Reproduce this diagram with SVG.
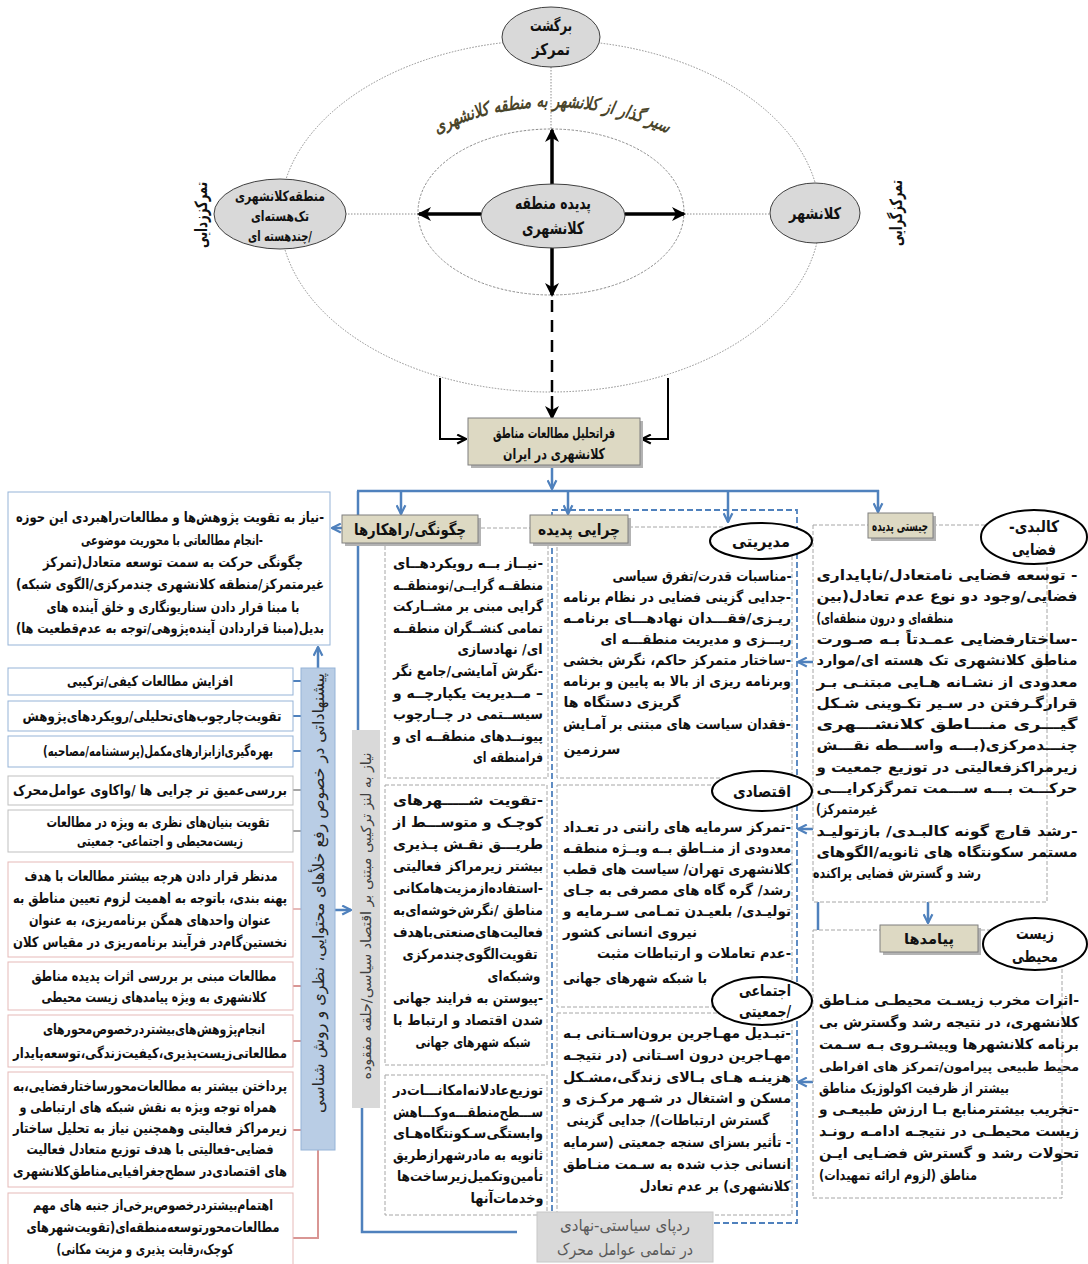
<svg xmlns="http://www.w3.org/2000/svg" width="1088" height="1264" viewBox="0 0 1088 1264">
<style>
.t{font-family:"DejaVu Sans","Noto Sans",sans-serif;font-weight:bold;font-size:14px;fill:#111;direction:rtl;text-anchor:middle}
.h{font-family:"DejaVu Sans","Noto Sans",sans-serif;font-weight:bold;font-size:15px;fill:#111;direction:rtl;text-anchor:middle}
.v{font-family:"DejaVu Sans","Noto Sans",sans-serif;font-size:14px;fill:#404040;direction:rtl;text-anchor:middle}
.dot{fill:none;stroke:#8c8c8c;stroke-width:1;stroke-dasharray:1.5 1.5}
.node{fill:#d9d9d9;stroke:#404040;stroke-width:1}
.hdr{fill:#ddd9c3;stroke:#7f7f7f;stroke-width:1}
.shd{fill:#b3b3b3}
.dbox{fill:none;stroke:#a6a6a6;stroke-width:1;stroke-dasharray:4 2}
.oval{fill:#fff;stroke:#000;stroke-width:2}
.bl{fill:none;stroke:#4f81bd;stroke-width:2.5}
.blb{fill:#fff;stroke:#95b3d7;stroke-width:1}
.grb{fill:#fff;stroke:#bfbfbf;stroke-width:1}
.pkb{fill:#fff;stroke:#e6b9b8;stroke-width:1}
.k{fill:none;stroke:#000;stroke-width:2}
.kt{fill:none;stroke:#000;stroke-width:3.5}
</style>
<defs>
<marker id="ah" viewBox="0 0 14 14" refX="12" refY="7" markerWidth="14" markerHeight="14" markerUnits="userSpaceOnUse" orient="auto"><path d="M0,0 L14,7 L0,14 L4,7 z" fill="#000"/></marker>
<marker id="ab" viewBox="0 0 10 10" refX="9" refY="5" markerWidth="11" markerHeight="11" markerUnits="userSpaceOnUse" orient="auto"><path d="M1,1 L9,5 L1,9" fill="none" stroke="#4f81bd" stroke-width="2"/></marker>
<marker id="ak" viewBox="0 0 10 10" refX="9" refY="5" markerWidth="11" markerHeight="11" markerUnits="userSpaceOnUse" orient="auto"><path d="M1,1 L9,5 L1,9" fill="none" stroke="#000" stroke-width="2"/></marker>
<path id="arc" d="M428,138 A263,263 0 0 1 676,138"/>
</defs>
<rect width="1088" height="1264" fill="#fff"/>

<g id="outer-ring"><ellipse cx="550" cy="216" rx="270" ry="176" class="dot"/></g>
<g id="inner-ring"><ellipse cx="551" cy="212" rx="133" ry="83" class="dot" style="stroke-dasharray:2.5 1.5"/></g>

<g id="connectors">
<line x1="551" y1="67" x2="551" y2="129" class="dot"/>
<line x1="345" y1="214" x2="418" y2="214" class="dot"/>
<line x1="684" y1="214" x2="770" y2="214" class="dot"/>
<line x1="552" y1="185" x2="552" y2="130" class="kt" marker-end="url(#ah)"/>
<line x1="481" y1="214" x2="419" y2="214" class="kt" marker-end="url(#ah)"/>
<line x1="625" y1="214" x2="684" y2="214" class="kt" marker-end="url(#ah)"/>
<line x1="552" y1="247" x2="552" y2="295" class="kt" marker-end="url(#ah)"/>
<line x1="552" y1="300" x2="552" y2="398" class="k" style="stroke-dasharray:12 8;stroke-width:2.5"/>
<line x1="552" y1="396" x2="552" y2="418" class="k" style="stroke-width:2.5" marker-end="url(#ah)"/>
<polyline points="440,378 440,439 466,439" class="k" marker-end="url(#ak)"/>
<polyline points="668,378 668,439 642,439" class="k" marker-end="url(#ak)"/>
<line x1="552" y1="465" x2="552" y2="489" class="bl" marker-end="url(#ab)"/>
<line x1="357" y1="491" x2="879" y2="491" class="bl"/>
<line x1="358" y1="491" x2="358" y2="730" class="bl"/>
<line x1="358" y1="528" x2="332" y2="528" class="bl" marker-end="url(#ab)"/>
<line x1="401" y1="491" x2="401" y2="514" class="bl" marker-end="url(#ab)"/>
<line x1="568" y1="491" x2="568" y2="514" class="bl" marker-end="url(#ab)"/>
<line x1="728" y1="491" x2="728" y2="522" class="bl" marker-end="url(#ab)"/>
<line x1="878" y1="490" x2="878" y2="512" class="bl" marker-end="url(#ab)"/>
<line x1="318" y1="668" x2="318" y2="647" class="bl" marker-end="url(#ab)"/>
<line x1="335" y1="910" x2="351" y2="910" class="bl" marker-end="url(#ab)"/>
<polyline points="362,1108 362,1232 517,1232" class="bl"/>
<line x1="813" y1="662" x2="798" y2="662" class="bl" marker-end="url(#ab)"/>
<line x1="813" y1="829" x2="798" y2="829" class="bl" marker-end="url(#ab)"/>
<line x1="813" y1="1082" x2="798" y2="1082" class="bl" marker-end="url(#ab)"/>
<line x1="818" y1="902" x2="818" y2="930" class="bl"/>
<line x1="928" y1="902" x2="928" y2="923" class="bl" marker-end="url(#ab)"/>
<g style="stroke-width:2;fill:none">
<line x1="293" y1="681" x2="301" y2="681" stroke="#4f81bd"/>
<line x1="293" y1="716" x2="301" y2="716" stroke="#4f81bd"/>
<line x1="293" y1="751" x2="301" y2="751" stroke="#4f81bd"/>
<line x1="293" y1="790" x2="301" y2="790" stroke="#a6a6a6"/>
<line x1="293" y1="831" x2="301" y2="831" stroke="#a6a6a6"/>
<line x1="293" y1="909" x2="301" y2="909" stroke="#e6b9b8"/>
<line x1="293" y1="986" x2="301" y2="986" stroke="#d99694"/>
<line x1="293" y1="1041" x2="301" y2="1041" stroke="#d99694"/>
<line x1="293" y1="1130" x2="301" y2="1130" stroke="#d99694"/>
<polyline points="293,1238 318,1238 318,1150" stroke="#d99694"/>
</g>
</g>

<text style="font-family:'DejaVu Sans',sans-serif;font-weight:bold;font-style:italic;font-size:18px;fill:#4a452a;direction:rtl;text-anchor:middle"><textPath href="#arc" startOffset="50%" textLength="238" lengthAdjust="spacingAndGlyphs">سیر گذار از کلانشهر به منطقه کلانشهری</textPath></text>

<g id="lbl-decentral"><text class="h" transform="translate(201,215) rotate(-90)" x="0" y="6" textLength="66" lengthAdjust="spacingAndGlyphs" style="font-size:17px">تمرکززدایی</text></g>
<g id="lbl-central"><text class="h" transform="translate(896,213) rotate(-90)" x="0" y="6" textLength="66" lengthAdjust="spacingAndGlyphs" style="font-size:17px">تمرکزگرایی</text></g>

<g id="n-return"><ellipse cx="551" cy="37" rx="49" ry="30" class="node"/>
<text class="h" x="551" y="31" textLength="42" lengthAdjust="spacingAndGlyphs" style="font-size:16px">برگشت</text>
<text class="h" x="551" y="55" textLength="38" lengthAdjust="spacingAndGlyphs" style="font-size:16px">تمرکز</text></g>

<g id="n-region"><ellipse cx="280" cy="214" rx="66" ry="35" class="node"/>
<text class="t" x="280" y="201" textLength="90" lengthAdjust="spacingAndGlyphs">منطقه‌کلانشهری</text>
<text class="t" x="280" y="221" textLength="58" lengthAdjust="spacingAndGlyphs">تک‌هسته‌ای</text>
<text class="t" x="280" y="241" textLength="64" lengthAdjust="spacingAndGlyphs">/چندهسته ای</text></g>

<g id="n-center"><ellipse cx="553" cy="216" rx="72" ry="32" class="node"/>
<text class="h" x="553" y="209" textLength="76" lengthAdjust="spacingAndGlyphs" style="font-size:17px">پدیده منطقه</text>
<text class="h" x="553" y="234" textLength="62" lengthAdjust="spacingAndGlyphs" style="font-size:17px">کلانشهری</text></g>

<g id="n-metro"><ellipse cx="815" cy="213" rx="45" ry="30" class="node"/>
<text class="h" x="815" y="219" textLength="52" lengthAdjust="spacingAndGlyphs" style="font-size:16px">کلانشهر</text></g>

<g id="n-meta"><rect x="471" y="421" width="172" height="47" class="shd"/><rect x="468" y="418" width="172" height="47" class="hdr"/>
<text class="h" x="554" y="438" textLength="122" lengthAdjust="spacingAndGlyphs">فراتحلیل مطالعات مناطق</text>
<text class="h" x="554" y="459" textLength="102" lengthAdjust="spacingAndGlyphs">کلانشهری در ایران</text></g>

<g id="n-future" class="t"><rect x="8" y="492" width="322" height="153" class="blb"/>
<text x="170" y="522" textLength="308" lengthAdjust="spacingAndGlyphs">-نیاز به تقویت پژوهش‌ها و مطالعات‌راهبردی این حوزه</text>
<text x="172" y="545" textLength="182" lengthAdjust="spacingAndGlyphs">-انجام مطالعاتی با محوریت موضوعی</text>
<text x="173" y="567" textLength="260" lengthAdjust="spacingAndGlyphs">چگونگی حرکت به سمت توسعه متعادل(تمرکز</text>
<text x="170" y="589" textLength="308" lengthAdjust="spacingAndGlyphs">غیرمتمرکز/منطقه کلانشهری چندمرکزی/الگوی شبکه)</text>
<text x="173" y="612" textLength="253" lengthAdjust="spacingAndGlyphs">با مبنا قرار دادن سناریونگاری و خلق آینده های</text>
<text x="170" y="633" textLength="308" lengthAdjust="spacingAndGlyphs">بدیل(مبنا قراردادن آینده‌پژوهی/توجه به عدم‌قطعیت ها)</text>
</g>

<g id="n-l1" class="t"><rect x="8" y="668" width="285" height="27" class="blb"/><text x="150" y="686" textLength="166" lengthAdjust="spacingAndGlyphs">افزایش مطالعات کیفی/ترکیبی</text></g>
<g id="n-l2" class="t"><rect x="8" y="701" width="285" height="30" class="blb"/><text x="152" y="721" textLength="259" lengthAdjust="spacingAndGlyphs">تقویت‌چارچوب‌های‌تحلیلی/رویکردهای‌پژوهش</text></g>
<g id="n-l3" class="t"><rect x="8" y="736" width="285" height="31" class="blb"/><text x="158" y="756" textLength="230" lengthAdjust="spacingAndGlyphs">بهره‌گیری‌ازابزارهای‌مکمل(پرسشنامه/مصاحبه)</text></g>
<g id="n-l4" class="t"><rect x="8" y="776" width="285" height="29" class="grb"/><text x="150" y="795" textLength="274" lengthAdjust="spacingAndGlyphs">بررسی‌عمیق تر چرایی ها /واکاوی عوامل‌محرک</text></g>
<g id="n-l5" class="t"><rect x="8" y="810" width="285" height="42" class="grb"/>
<text x="158" y="827" textLength="223" lengthAdjust="spacingAndGlyphs">تقویت بنیان‌های نظری به ویژه در مطالعات</text>
<text x="160" y="846" textLength="166" lengthAdjust="spacingAndGlyphs">زیست‌محیطی و اجتماعی- جمعیتی</text></g>
<g id="n-l6" class="t"><rect x="8" y="862" width="285" height="95" class="pkb"/>
<text x="151" y="881" textLength="253" lengthAdjust="spacingAndGlyphs">مدنظر قرار دادن هرچه بیشتر مطالعات با هدف</text>
<text x="150" y="903" textLength="274" lengthAdjust="spacingAndGlyphs">پهنه بندی، باتوجه به اهمیت لزوم تعیین مناطق به</text>
<text x="150" y="925" textLength="242" lengthAdjust="spacingAndGlyphs">عنوان واحدهای همگن برنامه‌ریزی، به عنوان</text>
<text x="150" y="947" textLength="274" lengthAdjust="spacingAndGlyphs">نخستین‌گام‌در فرآیند برنامه‌ریزی در مقیاس کلان</text></g>
<g id="n-l7" class="t"><rect x="8" y="962" width="285" height="48" class="pkb"/>
<text x="154" y="981" textLength="245" lengthAdjust="spacingAndGlyphs">مطالعات مبنی بر بررسی اثرات پدیده مناطق</text>
<text x="154" y="1002" textLength="225" lengthAdjust="spacingAndGlyphs">کلانشهری به ویژه پیامدهای زیست محیطی</text></g>
<g id="n-l8" class="t"><rect x="8" y="1015" width="285" height="52" class="pkb"/>
<text x="154" y="1034" textLength="222" lengthAdjust="spacingAndGlyphs">انجام‌پژوهش‌های‌بیشتر‌درخصوص‌محورهای</text>
<text x="150" y="1058" textLength="274" lengthAdjust="spacingAndGlyphs">مطالعاتی‌زیست‌پذیری،کیفیت‌زندگی،توسعه‌پایدار</text></g>
<g id="n-l9" class="t"><rect x="8" y="1072" width="285" height="115" class="pkb"/>
<text x="150" y="1091" textLength="274" lengthAdjust="spacingAndGlyphs">پرداختن بیشتر به مطالعات‌محورساختارفضایی،به</text>
<text x="148" y="1112" textLength="257" lengthAdjust="spacingAndGlyphs">همراه توجه ویژه به نقش شبکه های ارتباطی و</text>
<text x="150" y="1133" textLength="274" lengthAdjust="spacingAndGlyphs">زیرمراکز فعالیتی وهمچنین نیاز به تحلیل ساختار</text>
<text x="150" y="1154" textLength="247" lengthAdjust="spacingAndGlyphs">فضایی-فعالیتی با هدف توزیع متعادل فعالیت</text>
<text x="150" y="1176" textLength="274" lengthAdjust="spacingAndGlyphs">های اقتصادی‌در سطح‌جغرافیایی‌مناطق‌کلانشهری</text></g>
<g id="n-l10" class="t"><rect x="8" y="1193" width="285" height="80" class="pkb"/>
<text x="153" y="1210" textLength="240" lengthAdjust="spacingAndGlyphs">اهتمام‌بیشتر‌درخصوص‌برخی‌از جنبه های مهم</text>
<text x="153" y="1232" textLength="253" lengthAdjust="spacingAndGlyphs">مطالعات‌محور‌توسعه‌منطقه‌ای(تقویت‌شهرهای</text>
<text x="145" y="1254" textLength="177" lengthAdjust="spacingAndGlyphs">کوچک،رقابت پذیری و مزیت مکانی)</text></g>

<g id="n-suggest"><rect x="301" y="668" width="34" height="482" fill="#b9cde5" stroke="#95b3d7"/>
<text class="v" transform="translate(318,893) rotate(-90)" x="0" y="6" textLength="440" lengthAdjust="spacingAndGlyphs" style="font-size:16px;fill:#262626">پیشنهاداتی در خصوص رفع خلأهای محتوایی، نظری و روش شناسی</text></g>
<g id="n-lens"><rect x="352" y="730" width="28" height="378" fill="#d9d9d9"/>
<text class="v" transform="translate(366,916) rotate(-90)" x="0" y="5" textLength="327" lengthAdjust="spacingAndGlyphs">نیاز به لنز ترکیبی مبتنی بر اقتصاد سیاسی/حلقه مفقوده</text></g>

<rect x="552" y="510" width="245" height="713" fill="none" stroke="#4f81bd" stroke-width="1.8" stroke-dasharray="6 3"/>
<rect x="385" y="528" width="163" height="250" class="dbox"/>
<rect x="385" y="785" width="162" height="280" class="dbox"/>
<rect x="385" y="1075" width="162" height="140" class="dbox"/>
<rect x="557" y="527" width="235" height="251" class="dbox"/>
<rect x="557" y="785" width="235" height="222" class="dbox"/>
<rect x="557" y="1013" width="235" height="202" class="dbox"/>
<rect x="813" y="525" width="234" height="377" class="dbox"/>
<rect x="813" y="930" width="249" height="268" class="dbox"/>

<g id="n-how"><rect x="345" y="518" width="136" height="28" class="shd"/><rect x="342" y="515" width="136" height="28" class="hdr"/>
<text class="h" x="410" y="535" textLength="112" lengthAdjust="spacingAndGlyphs" style="font-size:16px">چگونگی/راهکارها</text></g>
<g id="n-how1" class="t">
<text x="468" y="568" textLength="150" lengthAdjust="spacingAndGlyphs">-نیــاز بــه رویکردهــای</text>
<text x="468" y="590" textLength="150" lengthAdjust="spacingAndGlyphs">منطقــه گرایــی/نومنطقــه</text>
<text x="468" y="611" textLength="150" lengthAdjust="spacingAndGlyphs">گرایی مبنی بر مشــارکت</text>
<text x="468" y="633" textLength="150" lengthAdjust="spacingAndGlyphs">تمامی کنشــگران منطقــه</text>
<text x="500" y="654" textLength="85" lengthAdjust="spacingAndGlyphs">ای/ نهادسازی</text>
<text x="468" y="676" textLength="150" lengthAdjust="spacingAndGlyphs">-نگرش آمایشی/جامع نگر</text>
<text x="468" y="698" textLength="150" lengthAdjust="spacingAndGlyphs">– مــدیریت یکپارچــه و</text>
<text x="468" y="719" textLength="150" lengthAdjust="spacingAndGlyphs">سیســتمی در چــارچوب</text>
<text x="468" y="741" textLength="150" lengthAdjust="spacingAndGlyphs">پیونــدهای منطقــه ای و</text>
<text x="508" y="762" textLength="70" lengthAdjust="spacingAndGlyphs">فرامنطقه ای</text>
</g>
<g id="n-how2" class="t">
<text x="468" y="805" textLength="150" lengthAdjust="spacingAndGlyphs">-تقویت شـــــهرهای</text>
<text x="468" y="827" textLength="150" lengthAdjust="spacingAndGlyphs">کوچـک و متوســـط از</text>
<text x="468" y="849" textLength="150" lengthAdjust="spacingAndGlyphs">طریـــق نقـش پـذیری</text>
<text x="468" y="871" textLength="150" lengthAdjust="spacingAndGlyphs">بیشتر زیرمراکز فعالیتی</text>
<text x="468" y="893" textLength="150" lengthAdjust="spacingAndGlyphs">-استفاده‌ازمزیت‌هامکانی</text>
<text x="468" y="915" textLength="150" lengthAdjust="spacingAndGlyphs">مناطق /نگرش‌خوشه‌ای‌به</text>
<text x="468" y="937" textLength="150" lengthAdjust="spacingAndGlyphs">فعالیت‌های‌صنعتی‌باهدف</text>
<text x="470" y="959" textLength="135" lengthAdjust="spacingAndGlyphs">تقویت‌الگوی‌چندمرکزی</text>
<text x="514" y="981" textLength="53" lengthAdjust="spacingAndGlyphs">وشبکه‌ای</text>
<text x="468" y="1003" textLength="150" lengthAdjust="spacingAndGlyphs">-پیوستن به فرایند جهانی</text>
<text x="468" y="1025" textLength="150" lengthAdjust="spacingAndGlyphs">شدن اقتصاد و ارتباط با</text>
<text x="473" y="1047" textLength="115" lengthAdjust="spacingAndGlyphs">شبکه شهرهای جهانی</text>
</g>
<g id="n-how3" class="t">
<text x="468" y="1095" textLength="150" lengthAdjust="spacingAndGlyphs">توزیع‌عادلانه‌امکانـــات‌در</text>
<text x="468" y="1117" textLength="150" lengthAdjust="spacingAndGlyphs">ســـطح‌منطقـــه‌وکـــاهش</text>
<text x="468" y="1138" textLength="150" lengthAdjust="spacingAndGlyphs">وابستگی‌سـکونتگاه‌هـای</text>
<text x="468" y="1160" textLength="150" lengthAdjust="spacingAndGlyphs">ثانویه به مادرشهرازطریق</text>
<text x="470" y="1181" textLength="146" lengthAdjust="spacingAndGlyphs">تأمین‌وتکمیل‌زیرساخت‌ها</text>
<text x="507" y="1203" textLength="73" lengthAdjust="spacingAndGlyphs">وخدمات‌آنها</text>
</g>

<g id="n-why"><rect x="533" y="518" width="98" height="28" class="shd"/><rect x="530" y="515" width="98" height="28" class="hdr"/>
<text class="h" x="579" y="535" textLength="82" lengthAdjust="spacingAndGlyphs" style="font-size:16px">چرایی پدیده</text></g>
<g id="n-manage" class="t">
<text x="702" y="581" textLength="179" lengthAdjust="spacingAndGlyphs">-مناسبات قدرت/تفرق سیاسی</text>
<text x="677" y="602" textLength="228" lengthAdjust="spacingAndGlyphs">-جدایی گزینی فضایی در نظام برنامه</text>
<text x="677" y="623" textLength="228" lengthAdjust="spacingAndGlyphs">ریـزی/فقـــدان نهادهـــای برنامـه</text>
<text x="696" y="644" textLength="191" lengthAdjust="spacingAndGlyphs">ریـــزی و مدیریت منطقـــه ای</text>
<text x="677" y="665" textLength="228" lengthAdjust="spacingAndGlyphs">-ساختار متمرکز حاکم، نگرش بخشی</text>
<text x="677" y="686" textLength="228" lengthAdjust="spacingAndGlyphs">وبرنامه ریزی از بالا به پایین و برنامه</text>
<text x="622" y="707" textLength="117" lengthAdjust="spacingAndGlyphs">گریزی دستگاه ها</text>
<text x="677" y="729" textLength="228" lengthAdjust="spacingAndGlyphs">-فقدان سیاست های مبتنی بر آمـایش</text>
<text x="592" y="754" textLength="57" lengthAdjust="spacingAndGlyphs">سرزمین</text>
</g>
<g id="n-econ" class="t">
<text x="677" y="832" textLength="228" lengthAdjust="spacingAndGlyphs">-تمرکز سرمایه های رانتی در تعـداد</text>
<text x="677" y="853" textLength="228" lengthAdjust="spacingAndGlyphs">معدودی از منــاطق بــه ویــژه منطقـه</text>
<text x="677" y="874" textLength="228" lengthAdjust="spacingAndGlyphs">کلانشهری تهران/ سیاست های قطب</text>
<text x="677" y="895" textLength="228" lengthAdjust="spacingAndGlyphs">رشد/ گره گاه های مصرفی به جـای</text>
<text x="677" y="916" textLength="228" lengthAdjust="spacingAndGlyphs">تولیـدی/ بلعیـدن تمـامی سـرمایه و</text>
<text x="630" y="937" textLength="134" lengthAdjust="spacingAndGlyphs">نیروی انسانی کشور</text>
<text x="694" y="958" textLength="194" lengthAdjust="spacingAndGlyphs">-عدم تعاملات و ارتباطات مثبت</text>
<text x="635" y="983" textLength="144" lengthAdjust="spacingAndGlyphs">با شبکه شهرهای جهانی</text>
</g>
<g id="n-social" class="t">
<text x="677" y="1038" textLength="228" lengthAdjust="spacingAndGlyphs">-تبـدیل مهـاجرین برون‌اسـتانی بـه</text>
<text x="677" y="1060" textLength="228" lengthAdjust="spacingAndGlyphs">مهـاجرین درون اسـتانی (در نتیجـه</text>
<text x="677" y="1082" textLength="228" lengthAdjust="spacingAndGlyphs">هزینـه هـای بـالای زندگی،مشـکل</text>
<text x="677" y="1103" textLength="228" lengthAdjust="spacingAndGlyphs">مسکن و اشتغال در شـهر مرکـزی و</text>
<text x="668" y="1125" textLength="203" lengthAdjust="spacingAndGlyphs">گسترش ارتباطات)/ جدایی گزینی</text>
<text x="677" y="1147" textLength="228" lengthAdjust="spacingAndGlyphs">- تأثیر بسزای سنجه جمعیتی (سرمایه</text>
<text x="677" y="1169" textLength="228" lengthAdjust="spacingAndGlyphs">انسانی جذب شده به سـمت منـاطق</text>
<text x="715" y="1191" textLength="151" lengthAdjust="spacingAndGlyphs">کلانشهری) بر عدم تعادل</text>
</g>
<g id="o-manage"><ellipse cx="761" cy="541" rx="51" ry="18" class="oval"/><text class="h" x="761" y="547" textLength="58" lengthAdjust="spacingAndGlyphs" style="font-size:16px">مدیریتی</text></g>
<g id="o-econ"><ellipse cx="762" cy="791" rx="50" ry="20" class="oval"/><text class="h" x="762" y="797" textLength="58" lengthAdjust="spacingAndGlyphs" style="font-size:16px">اقتصادی</text></g>
<g id="o-social"><ellipse cx="762" cy="1001" rx="50" ry="24" class="oval"/>
<text class="h" x="765" y="996" textLength="52" lengthAdjust="spacingAndGlyphs" style="font-size:16px">اجتماعی</text>
<text class="h" x="765" y="1017" textLength="52" lengthAdjust="spacingAndGlyphs" style="font-size:16px">/جمعیتی</text></g>

<g id="n-what"><rect x="871" y="516" width="65" height="25" class="shd"/><rect x="868" y="513" width="65" height="25" class="hdr"/>
<text class="h" x="900" y="531" textLength="56" lengthAdjust="spacingAndGlyphs" style="font-size:14px">چیستی پدیده</text></g>
<g id="o-phys"><ellipse cx="1034" cy="537" rx="53" ry="27" class="oval"/>
<text class="h" x="1034" y="532" textLength="50" lengthAdjust="spacingAndGlyphs" style="font-size:16px">کالبدی-</text>
<text class="h" x="1034" y="555" textLength="44" lengthAdjust="spacingAndGlyphs" style="font-size:16px">فضایی</text></g>
<g id="n-what1" class="t">
<text x="947" y="580" textLength="261" lengthAdjust="spacingAndGlyphs">- توسعه فضایی نامتعادل/ناپایداری</text>
<text x="947" y="601" textLength="261" lengthAdjust="spacingAndGlyphs">فضایی/وجود دو نوع عدم تعادل(بین</text>
<text x="885" y="623" textLength="137" lengthAdjust="spacingAndGlyphs">منطقه‌ای و درون منطقه‌ای)</text>
<text x="947" y="644" textLength="261" lengthAdjust="spacingAndGlyphs">-ساختارفضایی عمـدتاً بـه صـورت</text>
<text x="947" y="665" textLength="261" lengthAdjust="spacingAndGlyphs">مناطق کلانشهری تک هسته ای/موارد</text>
<text x="947" y="687" textLength="261" lengthAdjust="spacingAndGlyphs">معدودی از نشـانه هـایی مبتنـی بـر</text>
<text x="947" y="708" textLength="261" lengthAdjust="spacingAndGlyphs">قرارگـرفتن در سـیر تکـوینی شـکل</text>
<text x="947" y="729" textLength="261" lengthAdjust="spacingAndGlyphs">گیـــری منـــاطق کلانشـــهری</text>
<text x="947" y="750" textLength="261" lengthAdjust="spacingAndGlyphs">چنـــدمرکزی(بـــه واســـطه نقـــش</text>
<text x="947" y="772" textLength="261" lengthAdjust="spacingAndGlyphs">زیرمراکزفعالیتی در توزیع جمعیت و</text>
<text x="947" y="793" textLength="261" lengthAdjust="spacingAndGlyphs">حرکـــت بـــه ســـمت تمرگزکرایـــی</text>
<text x="847" y="814" textLength="62" lengthAdjust="spacingAndGlyphs">غیرمتمرکز)</text>
<text x="947" y="836" textLength="261" lengthAdjust="spacingAndGlyphs">-رشد قارچ گونه کالبـدی/ بازتولیـد</text>
<text x="947" y="857" textLength="261" lengthAdjust="spacingAndGlyphs">مستمر سکونتگاه های ثانویه/الگوهای</text>
<text x="897" y="878" textLength="168" lengthAdjust="spacingAndGlyphs">رشد و گسترش فضایی پراکنده</text>
</g>

<g id="n-out"><rect x="883" y="928" width="98" height="27" class="shd"/><rect x="880" y="925" width="98" height="27" class="hdr"/>
<text class="h" x="929" y="944" textLength="50" lengthAdjust="spacingAndGlyphs">پیامدها</text></g>
<g id="o-env"><ellipse cx="1035" cy="944" rx="52" ry="26" class="oval"/>
<text class="h" x="1035" y="939" textLength="38" lengthAdjust="spacingAndGlyphs" style="font-size:16px">زیست</text>
<text class="h" x="1035" y="962" textLength="46" lengthAdjust="spacingAndGlyphs" style="font-size:16px">محیطی</text></g>
<g id="n-out1" class="t">
<text x="949" y="1005" textLength="260" lengthAdjust="spacingAndGlyphs">-اثرات مخرب زیسـت محیطـی منـاطق</text>
<text x="949" y="1027" textLength="260" lengthAdjust="spacingAndGlyphs">کلانشهری، در نتیجه  رشد وگسترش بی</text>
<text x="949" y="1049" textLength="260" lengthAdjust="spacingAndGlyphs">برنامه کلانشهرها وپیشـروی بـه سـمت</text>
<text x="949" y="1071" textLength="260" lengthAdjust="spacingAndGlyphs" style="font-size:12.5px">محیط طبیعی پیرامون/تمرکز های افراطی</text>
<text x="914" y="1093" textLength="190" lengthAdjust="spacingAndGlyphs">بیشتر از ظرفیت اکولوژیک مناطق</text>
<text x="949" y="1114" textLength="260" lengthAdjust="spacingAndGlyphs">-تخریب بیشترمنابع بـا ارزش طبیعـی و</text>
<text x="949" y="1136" textLength="260" lengthAdjust="spacingAndGlyphs">زیست محیطـی در نتیجـه ادامـه رونـد</text>
<text x="949" y="1158" textLength="260" lengthAdjust="spacingAndGlyphs">تحولات رشد و گسترش فضـایی ایـن</text>
<text x="898" y="1180" textLength="158" lengthAdjust="spacingAndGlyphs">مناطق (لزوم ارائه تمهیدات)</text>
</g>

<g id="n-trace"><rect x="537" y="1212" width="176" height="50" fill="#d9d9d9" stroke="#c8c8c8"/>
<text class="v" x="625" y="1231" textLength="130" lengthAdjust="spacingAndGlyphs" style="font-size:16px;fill:#595959">ردپای سیاستی-نهادی</text>
<text class="v" x="625" y="1255" textLength="136" lengthAdjust="spacingAndGlyphs" style="font-size:16px;fill:#595959">در تمامی عوامل محرک</text></g>
</svg>
